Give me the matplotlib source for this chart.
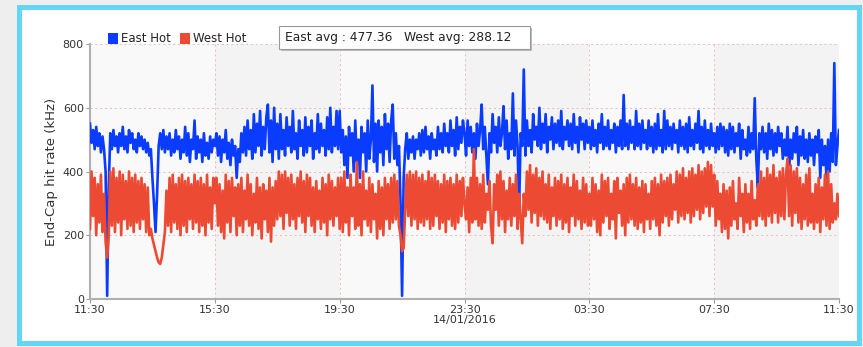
import matplotlib
matplotlib.use("Agg")
import matplotlib.pyplot as plt
from matplotlib.patches import Rectangle
import pandas as pd

# ---------------- data ----------------
start_time = "2016-01-13 11:30"
step = "3min"

east_b1 = [550, 490, 530, 470, 540, 480, 520, 460, 510, 470,
           400, 10, 350, 520, 470, 530, 480, 510, 460, 520,
           480, 540, 470, 510, 460, 530, 490, 520, 470, 500,
           460, 520, 480, 510, 470, 500, 460, 490, 450, 470,
           380, 300, 210, 330, 480, 520, 470, 530, 460, 510,
           470, 520, 450, 500, 460, 530, 470, 510, 440, 500,
           460, 540, 450, 520, 430, 500, 470, 560, 440, 510,
           460, 500, 430, 520, 450, 490, 440, 510, 460, 500]
east_b2 = [480, 520, 450, 510, 430, 500, 460, 530, 440, 490,
           420, 500, 450, 480, 380, 470, 430, 520, 460, 540,
           450, 560, 470, 530, 440, 580, 460, 550, 480, 590,
           450, 540, 470, 570, 610, 460, 560, 430, 600, 470,
           550, 440, 580, 470, 530, 450, 570, 480, 540, 460,
           590, 470, 520, 440, 560, 480, 530, 450, 570, 460,
           540, 480, 560, 440, 520, 470, 580, 460, 550, 480,
           530, 450, 570, 470, 600, 460, 540, 480, 590, 470]
east_b3 = [590, 460, 530, 420, 510, 380, 540, 450, 520, 400,
           560, 430, 500, 380, 540, 460, 520, 400, 560, 440,
           500, 670, 430, 550, 400, 560, 460, 540, 420, 580,
           470, 550, 430, 560, 610, 440, 520, 420, 480, 300,
           10, 380, 470, 520, 440, 500, 460, 510, 440, 500,
           470, 520, 450, 530, 460, 540, 470, 510, 440, 520,
           470, 500, 450, 540, 470, 520, 460, 550, 480, 520,
           460, 560, 480, 530, 450, 570, 470, 540, 490, 560]
east_b4 = [520, 450, 560, 480, 540, 460, 520, 440, 550, 480,
           530, 610, 470, 540, 450, 360, 520, 460, 580, 490,
           540, 460, 570, 480, 520, 605, 470, 560, 440, 520,
           470, 645, 450, 560, 480, 280, 520, 480, 720, 450,
           560, 480, 530, 460, 580, 500, 540, 480, 600, 470,
           550, 490, 580, 460, 540, 500, 570, 470, 550, 490,
           560, 480, 590, 470, 540, 500, 560, 480, 550, 470,
           580, 490, 540, 460, 570, 500, 550, 470, 560, 490]
east_b5 = [540, 470, 560, 480, 530, 460, 550, 490, 580, 470,
           540, 480, 560, 470, 530, 490, 550, 460, 540, 480,
           560, 470, 640, 480, 550, 470, 560, 490, 540, 470,
           590, 480, 550, 470, 560, 490, 530, 470, 560, 480,
           540, 460, 550, 470, 580, 480, 530, 460, 590, 470,
           560, 480, 540, 470, 550, 490, 530, 460, 560, 480,
           540, 470, 550, 460, 570, 480, 530, 470, 550, 490,
           590, 470, 540, 460, 560, 480, 530, 470, 550, 480]
east_b6 = [520, 460, 540, 470, 550, 480, 540, 460, 530, 450,
           550, 470, 540, 460, 520, 480, 550, 440, 530, 470,
           500, 450, 540, 460, 520, 470, 630, 440, 350, 520,
           470, 540, 460, 520, 440, 550, 470, 530, 450, 520,
           460, 540, 480, 520, 440, 500, 450, 540, 420, 500,
           440, 520, 460, 540, 420, 510, 450, 530, 440, 500,
           430, 520, 450, 500, 420, 510, 460, 530, 380, 500,
           420, 480, 380, 500, 400, 520, 430, 740, 420, 480,
           530]

west_b1 = [220, 400, 260, 380, 200, 360, 240, 390, 210, 330,
           180, 130, 200, 400, 230, 410, 210, 380, 240, 400,
           200, 390, 250, 370, 220, 400, 230, 380, 210, 390,
           240, 370, 220, 380, 250, 360, 210, 350, 200, 220,
           190, 170, 150, 130, 115, 110, 130, 170, 210, 340,
           230, 380, 210, 390, 240, 360, 220, 380, 200, 390,
           230, 370, 210, 380, 250, 360, 220, 390, 240, 370,
           210, 380, 230, 360, 200, 390, 240, 350, 220, 380]
west_b2 = [300, 380, 230, 360, 210, 340, 190, 390, 240, 370,
           210, 380, 260, 350, 200, 360, 230, 380, 210, 340,
           250, 390, 230, 360, 200, 330, 240, 380, 220, 350,
           190, 360, 250, 340, 210, 380, 180, 350, 230, 370,
           250, 400, 260, 390, 220, 400, 270, 380, 230, 390,
           250, 360, 220, 380, 260, 400, 240, 370, 210, 390,
           260, 380, 230, 350, 210, 370, 250, 340, 220, 380,
           240, 360, 200, 390, 250, 370, 230, 350, 260, 380]
west_b3 = [220, 380, 210, 400, 240, 350, 200, 390, 260, 350,
           220, 430, 230, 360, 200, 400, 250, 340, 230, 380,
           210, 360, 250, 330, 190, 370, 220, 350, 200, 380,
           250, 360, 220, 380, 240, 390, 250, 370, 230, 200,
           150, 160, 280, 390, 260, 400, 230, 390, 250, 400,
           220, 380, 240, 390, 230, 370, 250, 400, 220, 380,
           230, 390, 260, 370, 220, 360, 240, 390, 210, 370,
           250, 380, 230, 360, 220, 390, 240, 370, 260, 380]
west_b4 = [300, 250, 350, 210, 380, 240, 470, 250, 380, 230,
           360, 220, 390, 240, 330, 280, 370, 230, 175, 360,
           280, 390, 230, 400, 250, 370, 210, 340, 250, 380,
           230, 360, 260, 390, 220, 330, 250, 175, 330, 260,
           400, 280, 420, 240, 390, 270, 410, 230, 380, 260,
           400, 250, 360, 240, 390, 220, 350, 260, 380, 230,
           370, 250, 390, 220, 360, 240, 380, 210, 350, 260,
           390, 230, 370, 250, 340, 220, 380, 240, 360, 230]
west_b5 = [330, 230, 380, 250, 360, 210, 340, 200, 390, 240,
           370, 260, 380, 220, 330, 250, 370, 190, 380, 270,
           340, 230, 360, 200, 380, 240, 390, 250, 360, 230,
           380, 220, 350, 240, 370, 210, 360, 250, 330, 220,
           370, 250, 380, 230, 360, 200, 390, 240, 370, 260,
           380, 230, 390, 250, 360, 280, 400, 240, 390, 260,
           410, 250, 380, 270, 400, 240, 410, 260, 390, 280,
           420, 250, 400, 270, 410, 290, 430, 260, 420, 290]
west_b6 = [390, 230, 370, 250, 330, 210, 360, 220, 340, 190,
           350, 230, 370, 250, 300, 220, 380, 260, 330, 210,
           360, 240, 330, 220, 370, 250, 310, 230, 360, 260,
           400, 250, 380, 230, 410, 260, 390, 240, 420, 270,
           380, 240, 400, 260, 410, 250, 390, 440, 260, 420,
           230, 400, 270, 410, 240, 380, 220, 360, 250, 390,
           230, 410, 240, 330, 220, 360, 240, 380, 210, 350,
           250, 390, 230, 400, 220, 360, 240, 300, 250, 330,
           260]

east_hot = east_b1 + east_b2 + east_b3 + east_b4 + east_b5 + east_b6
west_hot = west_b1 + west_b2 + west_b3 + west_b4 + west_b5 + west_b6

y_ticks = [0, 200, 400, 600, 800]
x_tick_labels = ["11:30", "15:30", "19:30", "23:30\n14/01/2016", "03:30", "07:30", "11:30"]
legend_labels = ["East Hot", "West Hot"]
avg_text = "East avg : 477.36   West avg: 288.12"

times = pd.date_range(start_time, periods=len(east_hot), freq=step)

# ---------------- figure ----------------
W, H = 863, 347
fig = plt.figure(figsize=(W / 100, H / 100), dpi=100)
fig.patch.set_facecolor("#eeeeee")

def px_rect(x0, y0, x1, y1, **kw):
    # pixel coordinates with origin at top-left
    return Rectangle((x0 / W, 1 - y1 / H), (x1 - x0) / W, (y1 - y0) / H,
                     transform=fig.transFigure, **kw)

fig.patches.append(px_rect(17, 5, 862, 346, facecolor="#62d6f4", edgecolor="none", zorder=-3))
fig.patches.append(px_rect(22, 10, 857, 341, facecolor="white", edgecolor="none", zorder=-2))

ax = fig.add_axes([90 / W, 1 - 299 / H, (839 - 90) / W, (299 - 44) / H])
ax.set_zorder(1)
ax.set_facecolor("#f9f9f9")

t0 = pd.Timestamp(start_time)
for k in range(6):
    if k % 2 == 1:
        ax.axvspan(t0 + pd.Timedelta(hours=4 * k), t0 + pd.Timedelta(hours=4 * (k + 1)),
                   color="#f3f3f3", zorder=0, lw=0)

ax.plot(times, east_hot, color="#0a3cff", lw=1.9, zorder=3)
ax.plot(times, west_hot, color="#ec4a32", lw=1.9, zorder=4)

ax.set_ylim(0, 800)
ax.set_xlim(t0, t0 + pd.Timedelta(hours=24))
ax.set_yticks(y_ticks)
ax.set_yticklabels([str(v) for v in y_ticks])
xt = [t0 + pd.Timedelta(hours=4 * k) for k in range(7)]
ax.set_xticks(xt)
ax.set_xticklabels(x_tick_labels, linespacing=1.0)

ax.grid(True, color="#f0b8b8", ls=(0, (2, 3)), lw=0.7, zorder=1)
for s in ["top", "right"]:
    ax.spines[s].set_visible(False)
for s in ["left", "bottom"]:
    ax.spines[s].set_color("#b0b0b0")
    ax.spines[s].set_linewidth(1.5)
ax.tick_params(axis="both", labelsize=8, colors="#333333", length=3, width=0.8, pad=1.5)
ax.tick_params(axis="both", color="#999999")
ax.set_ylabel("End-Cap hit rate (kHz)", fontsize=9.5, color="#333333", labelpad=3)

# legend
fig.patches.append(px_rect(108, 33, 118, 44, facecolor="#0a3cff", edgecolor="none", zorder=5))
fig.text(121 / W, 1 - 39 / H, legend_labels[0], fontsize=8.5, color="#222222", va="center", ha="left", zorder=7)
fig.patches.append(px_rect(180, 33, 190, 44, facecolor="#ec4a32", edgecolor="none", zorder=5))
fig.text(193 / W, 1 - 39 / H, legend_labels[1], fontsize=8.5, color="#222222", va="center", ha="left", zorder=7)

# average box
fig.patches.append(px_rect(281, 28, 532, 51, facecolor="#bbbbbb", edgecolor="none", zorder=5))
fig.patches.append(px_rect(279, 26, 530, 49, facecolor="white", edgecolor="#999999", lw=0.8, zorder=6))
fig.text(285 / W, 1 - 37 / H, avg_text, fontsize=8.8, color="#222222", va="center", ha="left", zorder=7)

fig.savefig("out.png", dpi=100, facecolor=fig.get_facecolor())
